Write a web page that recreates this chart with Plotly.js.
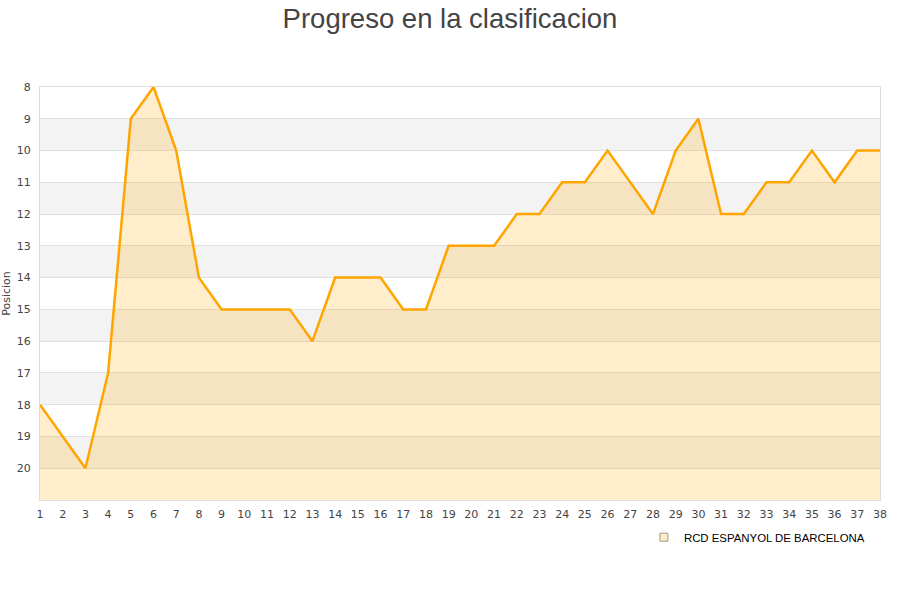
<!DOCTYPE html>
<html>
<head>
<meta charset="utf-8">
<script src="https://cdn.plot.ly/plotly-3.0.1.min.js"></script>
<style>
  body { margin: 0; background: #fff; }
  #chart { width: 900px; height: 600px; }
</style>
</head>
<body>
<div id="chart"></div>
<script>
var jornadas = [];
for (var j = 1; j <= 38; j++) jornadas.push(j);

var posicion = [18, 19, 20, 17, 9, 8, 10, 14, 15, 15, 15, 15, 16, 14, 14, 14, 15, 15, 13, 13,
                13, 12, 12, 11, 11, 10, 11, 12, 10, 9, 12, 12, 11, 11, 10, 11, 10, 10];
var fondo = 21;
var bandas = [9, 11, 13, 15, 17, 19];
var equipo = 'RCD ESPANYOL DE BARCELONA';

var base = jornadas.map(function () { return fondo; });

var data = [
    {
        x: jornadas, y: base, mode: 'lines', line: {width: 0},
        showlegend: false, hoverinfo: 'skip'
    },
    {
        x: jornadas, y: posicion, mode: 'lines', name: equipo,
        line: {color: '#ffa500', width: 2.5},
        fill: 'tonexty', fillcolor: 'rgba(255,165,0,0.2)',
        showlegend: false
    },
    {
        x: [null], y: [null], mode: 'markers', name: equipo,
        marker: {symbol: 'square', size: 8, color: '#fdeccb', line: {color: '#a89a80', width: 1}}
    }
];

var shapes = bandas.map(function (b) {
    return {type: 'rect', xref: 'paper', yref: 'y', x0: 0, x1: 1, y0: b, y1: b + 1,
            fillcolor: '#f3f3f3', line: {width: 0}, layer: 'below'};
});

var layout = {
    width: 900, height: 600,
    margin: {l: 40, r: 20, t: 87, b: 100},
    paper_bgcolor: '#fff', plot_bgcolor: '#fff',
    font: {family: 'DejaVu Sans, sans-serif', size: 11, color: '#444'},
    title: {text: 'Progreso en la clasificacion', x: 0.5, xanchor: 'center', y: 0.986, yanchor: 'top',
            font: {family: 'Liberation Sans, Arial, sans-serif', size: 27.5, color: '#444'}},
    xaxis: {range: [1, 38], tickmode: 'linear', tick0: 1, dtick: 1, showgrid: false, zeroline: false,
            showline: true, mirror: true, linecolor: '#dddddd', ticks: '', ticklabelstandoff: 4},
    yaxis: {range: [21, 8], tickmode: 'array', tickvals: [8,9,10,11,12,13,14,15,16,17,18,19,20],
            showgrid: true, gridcolor: '#e0e0e0', zeroline: false,
            showline: true, mirror: true, linecolor: '#dddddd', ticks: '', ticklabelstandoff: 6,
            title: {text: 'Posicion', standoff: 4, font: {size: 11, color: '#444'}}},
    shapes: shapes,
    showlegend: true,
    legend: {x: 0.988, xanchor: 'right', y: -0.055, yanchor: 'top', orientation: 'h',
             font: {family: 'Liberation Sans, Arial, sans-serif', size: 11.4, color: '#000'}},
    hovermode: false
};

Plotly.newPlot('chart', data, layout, {displayModeBar: false});
</script>
</body>
</html>
